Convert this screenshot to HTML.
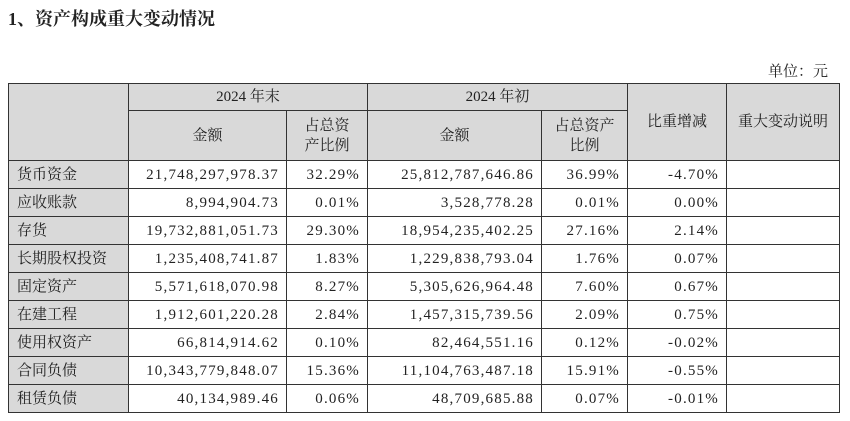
<!DOCTYPE html>
<html><head><meta charset="utf-8"><style>
body{margin:0;width:850px;height:421px;background:#fff;position:relative;overflow:hidden;font-family:"Liberation Serif","Noto Serif CJK SC",serif;color:#222}
.t{position:absolute;left:8px;top:5px;font-size:18px;font-weight:bold;font-family:"Liberation Serif","Noto Serif CJK SC",serif}
.u{position:absolute;right:22px;top:60px;font-size:15px}
.c{position:absolute;box-sizing:border-box;border:1px solid #333;display:flex;align-items:center;font-size:15px;line-height:20px;padding:0 8px}
.g{background:#d9d9d9}
.ctr{justify-content:center;text-align:center}
.r{justify-content:flex-end;letter-spacing:1.2px;padding-right:7px}
</style></head><body>
<div class="t">1、资产构成重大变动情况</div>
<div class="u">单位：元</div>
<div id="tbl"></div>
<script>
const items=["货币资金","应收账款","存货","长期股权投资","固定资产","在建工程","使用权资产","合同负债","租赁负债"];
const endAmt=["21,748,297,978.37","8,994,904.73","19,732,881,051.73","1,235,408,741.87","5,571,618,070.98","1,912,601,220.28","66,814,914.62","10,343,779,848.07","40,134,989.46"];
const endPct=["32.29%","0.01%","29.30%","1.83%","8.27%","2.84%","0.10%","15.36%","0.06%"];
const begAmt=["25,812,787,646.86","3,528,778.28","18,954,235,402.25","1,229,838,793.04","5,305,626,964.48","1,457,315,739.56","82,464,551.16","11,104,763,487.18","48,709,685.88"];
const begPct=["36.99%","0.01%","27.16%","1.76%","7.60%","2.09%","0.12%","15.91%","0.07%"];
const change=["-4.70%","0.00%","2.14%","0.07%","0.67%","0.75%","-0.02%","-0.55%","-0.01%"];
const X=[8,128,286,367,541,627,726,839];
const tbl=document.getElementById('tbl');
function cell(x0,x1,y0,y1,txt,cls,name){
  const d=document.createElement('div');
  d.className='c '+cls;
  d.style.left=x0+'px';d.style.top=y0+'px';d.style.width=(x1-x0+1)+'px';d.style.height=(y1-y0+1)+'px';
  d.innerHTML=txt;
  
  
  tbl.appendChild(d);
}
cell(X[0],X[1],83,160,'','g','header-item');
cell(X[1],X[3],83,110,'2024 年末','g ctr','header-2024-end');
cell(X[3],X[5],83,110,'2024 年初','g ctr','header-2024-begin');
cell(X[1],X[2],110,160,'金额','g ctr','header-end-amount');
cell(X[2],X[3],110,160,'占总资<br>产比例','g ctr','header-end-ratio');
cell(X[3],X[4],110,160,'金额','g ctr','header-begin-amount');
cell(X[4],X[5],110,160,'占总资产<br>比例','g ctr','header-begin-ratio');
cell(X[5],X[6],83,160,'比重增减','g ctr','header-change');
cell(X[6],X[7],83,160,'重大变动说明','g ctr','header-note');
items.forEach((it,i)=>{
  const y0=160+i*28,y1=y0+28;
  cell(X[0],X[1],y0,y1,it,'g','row-label');
  cell(X[1],X[2],y0,y1,endAmt[i],'r','end-amount');
  cell(X[2],X[3],y0,y1,endPct[i],'r','end-ratio');
  cell(X[3],X[4],y0,y1,begAmt[i],'r','begin-amount');
  cell(X[4],X[5],y0,y1,begPct[i],'r','begin-ratio');
  cell(X[5],X[6],y0,y1,change[i],'r','ratio-change');
  cell(X[6],X[7],y0,y1,'','','change-note');
});
</script>
</body></html>
